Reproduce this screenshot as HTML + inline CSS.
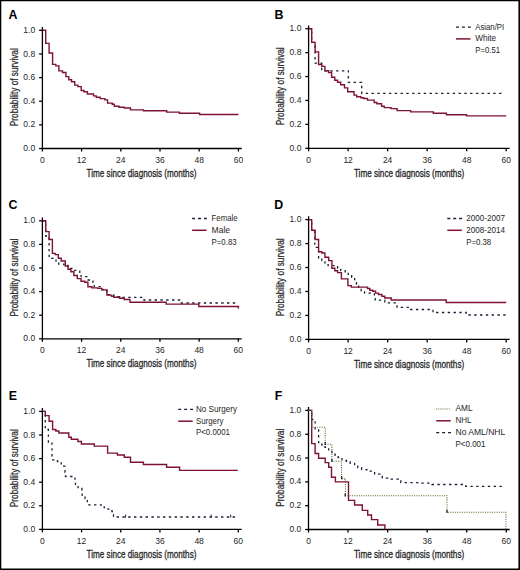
<!DOCTYPE html>
<html><head><meta charset="utf-8"><style>
html,body{margin:0;padding:0;background:#fff;}
body{width:520px;height:570px;overflow:hidden;}
svg{display:block;}
text{font-family:"Liberation Sans",sans-serif;}
.let{font-weight:bold;font-size:12.4px;fill:#000;}
.tk{font-size:8.5px;fill:#262626;}
.ti{font-size:10.6px;fill:#262626;stroke:#262626;stroke-width:0.3px;}
.yt{font-size:10px;fill:#262626;stroke:#262626;stroke-width:0.25px;}
.lg{font-size:8.4px;fill:#262626;}
.ax{stroke:#000;stroke-width:1.3;fill:none;}
</style></head><body>
<svg width="520" height="570" viewBox="0 0 520 570">
<rect x="0" y="0" width="520" height="570" fill="#fff"/>
<text x="8.4" y="18.5" class="let">A</text>
<path d="M42.4 27V148.5H241.8" class="ax"/>
<path d="M39.1 148.5H42.4" class="ax"/>
<text x="35.2" y="151.1" class="tk" text-anchor="end">0.0</text>
<path d="M39.1 124.86H42.4" class="ax"/>
<text x="35.2" y="127.46" class="tk" text-anchor="end">0.2</text>
<path d="M39.1 101.22H42.4" class="ax"/>
<text x="35.2" y="103.82" class="tk" text-anchor="end">0.4</text>
<path d="M39.1 77.58H42.4" class="ax"/>
<text x="35.2" y="80.18" class="tk" text-anchor="end">0.6</text>
<path d="M39.1 53.94H42.4" class="ax"/>
<text x="35.2" y="56.54" class="tk" text-anchor="end">0.8</text>
<path d="M39.1 30.3H42.4" class="ax"/>
<text x="35.2" y="32.9" class="tk" text-anchor="end">1.0</text>
<path d="M42.4 148.5V151.5" class="ax"/>
<text x="42.4" y="162.7" class="tk" text-anchor="middle">0</text>
<path d="M81.6 148.5V151.5" class="ax"/>
<text x="81.6" y="162.7" class="tk" text-anchor="middle">12</text>
<path d="M120.8 148.5V151.5" class="ax"/>
<text x="120.8" y="162.7" class="tk" text-anchor="middle">24</text>
<path d="M160 148.5V151.5" class="ax"/>
<text x="160" y="162.7" class="tk" text-anchor="middle">36</text>
<path d="M199.2 148.5V151.5" class="ax"/>
<text x="199.2" y="162.7" class="tk" text-anchor="middle">48</text>
<path d="M238.4 148.5V151.5" class="ax"/>
<text x="238.4" y="162.7" class="tk" text-anchor="middle">60</text>
<text x="86.6" y="177.1" class="ti" textLength="109.8" lengthAdjust="spacingAndGlyphs">Time since diagnosis (months)</text>
<text transform="translate(17.5 87.2) rotate(-90)" class="yt" text-anchor="middle" textLength="78" lengthAdjust="spacingAndGlyphs">Probability of survival</text>
<path d="M42.4 30.3H45.7V43.4H49.1V53H52.6V64.4H55.8V65.9H58.9V70.9H62.5V72.5H65.9V76.6H68.8V79.8H71.6V81.7H74.7V85.1H77.9V86.6H81.2V90.5H84V91.8H87.4V94H93.5V95.9H96.2V97.2H100.2V98.6H104.9V99.9H107.6V103.1H112.3V104.2H114.3V106.2H119V107.2H124.4V108H130.5V109.9H143.5V110.8H166.7V112.1H179.4V113.3H199.6V114.5H238.4" stroke="#7d1236" stroke-width="1.4" fill="none"/>
<text x="274.5" y="18.7" class="let">B</text>
<path d="M308.6 25.4V148.3H509.6" class="ax"/>
<path d="M305.3 148.3H308.6" class="ax"/>
<text x="301.4" y="150.9" class="tk" text-anchor="end">0.0</text>
<path d="M305.3 124.38H308.6" class="ax"/>
<text x="301.4" y="126.98" class="tk" text-anchor="end">0.2</text>
<path d="M305.3 100.46H308.6" class="ax"/>
<text x="301.4" y="103.06" class="tk" text-anchor="end">0.4</text>
<path d="M305.3 76.54H308.6" class="ax"/>
<text x="301.4" y="79.14" class="tk" text-anchor="end">0.6</text>
<path d="M305.3 52.62H308.6" class="ax"/>
<text x="301.4" y="55.22" class="tk" text-anchor="end">0.8</text>
<path d="M305.3 28.7H308.6" class="ax"/>
<text x="301.4" y="31.3" class="tk" text-anchor="end">1.0</text>
<path d="M308.6 148.3V151.3" class="ax"/>
<text x="308.6" y="162.5" class="tk" text-anchor="middle">0</text>
<path d="M348.12 148.3V151.3" class="ax"/>
<text x="348.12" y="162.5" class="tk" text-anchor="middle">12</text>
<path d="M387.64 148.3V151.3" class="ax"/>
<text x="387.64" y="162.5" class="tk" text-anchor="middle">24</text>
<path d="M427.16 148.3V151.3" class="ax"/>
<text x="427.16" y="162.5" class="tk" text-anchor="middle">36</text>
<path d="M466.68 148.3V151.3" class="ax"/>
<text x="466.68" y="162.5" class="tk" text-anchor="middle">48</text>
<path d="M506.2 148.3V151.3" class="ax"/>
<text x="506.2" y="162.5" class="tk" text-anchor="middle">60</text>
<text x="353.9" y="176.9" class="ti" textLength="110.3" lengthAdjust="spacingAndGlyphs">Time since diagnosis (months)</text>
<text transform="translate(283.7 86.3) rotate(-90)" class="yt" text-anchor="middle" textLength="78" lengthAdjust="spacingAndGlyphs">Probability of survival</text>
<path d="M308.6 28.7H311.7V42.3H315.1V63.2H321.7V70.8H348.3V82.3H361.7V93.4H504.5" stroke="#1a2035" stroke-width="1.3" stroke-dasharray="2.4 3.4" fill="none"/>
<path d="M308.6 28.7H311.7V42.4H315.1V51.9H318.6V64.5H321.8V66.4H324.9V70.8H328.5V72.5H331.6V77.2H334.8V80.3H337.6V82.2H340.7V84.7H344.5V87.9H347.7V91.7H354V95.1H356.7V96.8H360.8V97.8H363.5V98.5H367.5V100.1H374.2V102.5H376.9V103.8H381.6V106.3H384.3V107.6H391V108.6H397.1V110.6H410.7V111.9H433.3V113.3H446.4V114.7H466.6V115.9H506.2" stroke="#7d1236" stroke-width="1.4" fill="none"/>
<path d="M456 27.1h14.8" stroke="#1a2035" stroke-width="1.3" stroke-dasharray="3 2.9" fill="none"/>
<text x="475.2" y="29.5" class="lg" textLength="29" lengthAdjust="spacingAndGlyphs">Asian/PI</text>
<path d="M456 38.9h14.5" stroke="#7d1236" stroke-width="1.5" fill="none"/>
<text x="475.2" y="41.3" class="lg" textLength="21" lengthAdjust="spacingAndGlyphs">White</text>
<text x="475.2" y="53.1" class="lg" textLength="25" lengthAdjust="spacingAndGlyphs">P=0.51</text>
<text x="8.5" y="208.6" class="let">C</text>
<path d="M42.4 217.5V338.8H241.7" class="ax"/>
<path d="M39.1 338.8H42.4" class="ax"/>
<text x="35.2" y="341.4" class="tk" text-anchor="end">0.0</text>
<path d="M39.1 315.2H42.4" class="ax"/>
<text x="35.2" y="317.8" class="tk" text-anchor="end">0.2</text>
<path d="M39.1 291.6H42.4" class="ax"/>
<text x="35.2" y="294.2" class="tk" text-anchor="end">0.4</text>
<path d="M39.1 268H42.4" class="ax"/>
<text x="35.2" y="270.6" class="tk" text-anchor="end">0.6</text>
<path d="M39.1 244.4H42.4" class="ax"/>
<text x="35.2" y="247" class="tk" text-anchor="end">0.8</text>
<path d="M39.1 220.8H42.4" class="ax"/>
<text x="35.2" y="223.4" class="tk" text-anchor="end">1.0</text>
<path d="M42.4 338.8V341.8" class="ax"/>
<text x="42.4" y="353" class="tk" text-anchor="middle">0</text>
<path d="M81.58 338.8V341.8" class="ax"/>
<text x="81.58" y="353" class="tk" text-anchor="middle">12</text>
<path d="M120.76 338.8V341.8" class="ax"/>
<text x="120.76" y="353" class="tk" text-anchor="middle">24</text>
<path d="M159.94 338.8V341.8" class="ax"/>
<text x="159.94" y="353" class="tk" text-anchor="middle">36</text>
<path d="M199.12 338.8V341.8" class="ax"/>
<text x="199.12" y="353" class="tk" text-anchor="middle">48</text>
<path d="M238.3 338.8V341.8" class="ax"/>
<text x="238.3" y="353" class="tk" text-anchor="middle">60</text>
<text x="86.6" y="367.4" class="ti" textLength="109.8" lengthAdjust="spacingAndGlyphs">Time since diagnosis (months)</text>
<text transform="translate(17.5 277.6) rotate(-90)" class="yt" text-anchor="middle" textLength="78" lengthAdjust="spacingAndGlyphs">Probability of survival</text>
<path d="M42.4 220.8H45.7V236H49.1V258.4H56V262H58.7V264.1H64V265.5H68V268.5H74.7V270.4H79.8V272.3H81.1V276.7H88V280H93V282.4H94.2V286.6H101.7V289.5H106.9V294.6H113.8V296.6H119.6V297.4H144V300H179.6V303H238.4" stroke="#1a2035" stroke-width="1.3" stroke-dasharray="2.4 3.4" fill="none"/>
<path d="M42.4 220.8H45.7V231.6H49.1V239.5H52.4V253.4H55.2V254.6H58.3V258.2H61.2V261H65.3V266H68V269.2H70.9V271.7H73.9V275.5H77.3V278.6H81V281.2H84.8V282.2H87.9V286.8H91.9V287.9H97.7V288.4H101.7V289.9H106.9V295.1H111.5V296.2H113.8V297.2H119.6V298.3H124.2V299.5H130V302.2H166.2V304.1H198.8V306.5H238.4V308.5" stroke="#7d1236" stroke-width="1.4" fill="none"/>
<path d="M192.1 218.5h14.8" stroke="#1a2035" stroke-width="1.3" stroke-dasharray="3 2.9" fill="none"/>
<text x="211.6" y="220.9" class="lg" textLength="26" lengthAdjust="spacingAndGlyphs">Female</text>
<path d="M192.1 230.3h14.5" stroke="#7d1236" stroke-width="1.5" fill="none"/>
<text x="211.6" y="232.7" class="lg" textLength="18.5" lengthAdjust="spacingAndGlyphs">Male</text>
<text x="211.6" y="244.5" class="lg" textLength="25" lengthAdjust="spacingAndGlyphs">P=0.83</text>
<text x="274.2" y="208.5" class="let">D</text>
<path d="M308.6 216.3V339.4H509.6" class="ax"/>
<path d="M305.3 339.4H308.6" class="ax"/>
<text x="301.4" y="342" class="tk" text-anchor="end">0.0</text>
<path d="M305.3 315.44H308.6" class="ax"/>
<text x="301.4" y="318.04" class="tk" text-anchor="end">0.2</text>
<path d="M305.3 291.48H308.6" class="ax"/>
<text x="301.4" y="294.08" class="tk" text-anchor="end">0.4</text>
<path d="M305.3 267.52H308.6" class="ax"/>
<text x="301.4" y="270.12" class="tk" text-anchor="end">0.6</text>
<path d="M305.3 243.56H308.6" class="ax"/>
<text x="301.4" y="246.16" class="tk" text-anchor="end">0.8</text>
<path d="M305.3 219.6H308.6" class="ax"/>
<text x="301.4" y="222.2" class="tk" text-anchor="end">1.0</text>
<path d="M308.6 339.4V342.4" class="ax"/>
<text x="308.6" y="353.6" class="tk" text-anchor="middle">0</text>
<path d="M348.12 339.4V342.4" class="ax"/>
<text x="348.12" y="353.6" class="tk" text-anchor="middle">12</text>
<path d="M387.64 339.4V342.4" class="ax"/>
<text x="387.64" y="353.6" class="tk" text-anchor="middle">24</text>
<path d="M427.16 339.4V342.4" class="ax"/>
<text x="427.16" y="353.6" class="tk" text-anchor="middle">36</text>
<path d="M466.68 339.4V342.4" class="ax"/>
<text x="466.68" y="353.6" class="tk" text-anchor="middle">48</text>
<path d="M506.2 339.4V342.4" class="ax"/>
<text x="506.2" y="353.6" class="tk" text-anchor="middle">60</text>
<text x="353.9" y="368" class="ti" textLength="110.3" lengthAdjust="spacingAndGlyphs">Time since diagnosis (months)</text>
<text transform="translate(283.7 277.3) rotate(-90)" class="yt" text-anchor="middle" textLength="78" lengthAdjust="spacingAndGlyphs">Probability of survival</text>
<path d="M308.6 219.6H311.7V231.5H314.8V247.3H318.6V258H321.8V260.6H325V263.1H328.1V265.6H337.6V268.2H340.7V270.7H345.2V272.6H348.3V275.1H351.7V277.3H354.7V279.7H356.5V284H358.6V288.2H361.2V290.8H364.6V293.1H370.4V293.8H374.4V296H375.2V300.2H384.8V302.9H397V307.3H410V309.5H433V312.5H466.2V315H506.2V315.8" stroke="#1a2035" stroke-width="1.3" stroke-dasharray="2.4 3.4" fill="none"/>
<path d="M308.6 219.6H311.7V230.3H315.1V239.5H318.6V251.7H321.8V253H324.9V257.2H328.7V260.6H331.9V268.2H334.8V270.7H337.6V272.6H341.4V278.9H347.9V285.6H351.3V287.1H367.5V288.5H369.8V290.2H372.7V291.3H375.6V293.1H378.5V294.5H381.9V296.3H384.8V298H391.2V300H446.2V302.5H506.2" stroke="#7d1236" stroke-width="1.4" fill="none"/>
<path d="M447.3 218.5h14.8" stroke="#1a2035" stroke-width="1.3" stroke-dasharray="3 2.9" fill="none"/>
<text x="466.2" y="220.9" class="lg" textLength="38.8" lengthAdjust="spacingAndGlyphs">2000-2007</text>
<path d="M447.3 230.3h14.5" stroke="#7d1236" stroke-width="1.5" fill="none"/>
<text x="466.2" y="232.7" class="lg" textLength="38.8" lengthAdjust="spacingAndGlyphs">2008-2014</text>
<text x="466.2" y="244.5" class="lg" textLength="25" lengthAdjust="spacingAndGlyphs">P=0.38</text>
<text x="8.8" y="400" class="let">E</text>
<path d="M42.4 408.1V529.4H241.7" class="ax"/>
<path d="M39.1 529.4H42.4" class="ax"/>
<text x="35.2" y="532" class="tk" text-anchor="end">0.0</text>
<path d="M39.1 505.8H42.4" class="ax"/>
<text x="35.2" y="508.4" class="tk" text-anchor="end">0.2</text>
<path d="M39.1 482.2H42.4" class="ax"/>
<text x="35.2" y="484.8" class="tk" text-anchor="end">0.4</text>
<path d="M39.1 458.6H42.4" class="ax"/>
<text x="35.2" y="461.2" class="tk" text-anchor="end">0.6</text>
<path d="M39.1 435H42.4" class="ax"/>
<text x="35.2" y="437.6" class="tk" text-anchor="end">0.8</text>
<path d="M39.1 411.4H42.4" class="ax"/>
<text x="35.2" y="414" class="tk" text-anchor="end">1.0</text>
<path d="M42.4 529.4V532.4" class="ax"/>
<text x="42.4" y="543.6" class="tk" text-anchor="middle">0</text>
<path d="M81.58 529.4V532.4" class="ax"/>
<text x="81.58" y="543.6" class="tk" text-anchor="middle">12</text>
<path d="M120.76 529.4V532.4" class="ax"/>
<text x="120.76" y="543.6" class="tk" text-anchor="middle">24</text>
<path d="M159.94 529.4V532.4" class="ax"/>
<text x="159.94" y="543.6" class="tk" text-anchor="middle">36</text>
<path d="M199.12 529.4V532.4" class="ax"/>
<text x="199.12" y="543.6" class="tk" text-anchor="middle">48</text>
<path d="M238.3 529.4V532.4" class="ax"/>
<text x="238.3" y="543.6" class="tk" text-anchor="middle">60</text>
<text x="86.6" y="558" class="ti" textLength="109.8" lengthAdjust="spacingAndGlyphs">Time since diagnosis (months)</text>
<text transform="translate(17.5 468.2) rotate(-90)" class="yt" text-anchor="middle" textLength="78" lengthAdjust="spacingAndGlyphs">Probability of survival</text>
<path d="M42.4 411.4H45.3V429.5H48.4V442H52V459.8H57.5V461.6H61.2V466.2H65V472.3H65.5V476.5H75V480H75.5V485.4H78.1V488.5H81.9V490H82.2V495.4H85V498.5H87.3V504.8H101.2V506.2H104.2V507.7H108V509.2H111.9V511.5H113.5V517H237.5" stroke="#1a2035" stroke-width="1.3" stroke-dasharray="2.4 3.4" fill="none"/>
<path d="M42.4 411.4H45.3V415.6H49.1V421.3H52.6V429.5H55.8V431H58.9V433H68.8V437.3H71.3V439.3H77.9V441.5H81.4V444H94.3V446.1H107.6V453.1H117.4V455H124.3V457.3H130.5V462.3H143.4V464.5H166.6V467.3H179.6V470.4H237.8" stroke="#7d1236" stroke-width="1.4" fill="none"/>
<path d="M125.6 517.6v-3" stroke="#1a2035" stroke-width="1"/>
<path d="M211.2 517.6v-3" stroke="#1a2035" stroke-width="1"/>
<path d="M230.7 517.6v-3" stroke="#1a2035" stroke-width="1"/>
<path d="M178.2 409.4h14.8" stroke="#1a2035" stroke-width="1.3" stroke-dasharray="3 2.9" fill="none"/>
<text x="196" y="411.8" class="lg" textLength="41" lengthAdjust="spacingAndGlyphs">No Surgery</text>
<path d="M178.2 421.2h14.5" stroke="#7d1236" stroke-width="1.5" fill="none"/>
<text x="196" y="423.6" class="lg" textLength="27.5" lengthAdjust="spacingAndGlyphs">Surgery</text>
<text x="196" y="435.4" class="lg" textLength="34" lengthAdjust="spacingAndGlyphs">P&lt;0.0001</text>
<text x="274.8" y="400" class="let">F</text>
<path d="M308.5 407.1V529.5H509.7" class="ax"/>
<path d="M305.2 529.5H308.5" class="ax"/>
<text x="301.3" y="532.1" class="tk" text-anchor="end">0.0</text>
<path d="M305.2 505.68H308.5" class="ax"/>
<text x="301.3" y="508.28" class="tk" text-anchor="end">0.2</text>
<path d="M305.2 481.86H308.5" class="ax"/>
<text x="301.3" y="484.46" class="tk" text-anchor="end">0.4</text>
<path d="M305.2 458.04H308.5" class="ax"/>
<text x="301.3" y="460.64" class="tk" text-anchor="end">0.6</text>
<path d="M305.2 434.22H308.5" class="ax"/>
<text x="301.3" y="436.82" class="tk" text-anchor="end">0.8</text>
<path d="M305.2 410.4H308.5" class="ax"/>
<text x="301.3" y="413" class="tk" text-anchor="end">1.0</text>
<path d="M308.5 529.5V532.5" class="ax"/>
<text x="308.5" y="543.7" class="tk" text-anchor="middle">0</text>
<path d="M348.06 529.5V532.5" class="ax"/>
<text x="348.06" y="543.7" class="tk" text-anchor="middle">12</text>
<path d="M387.62 529.5V532.5" class="ax"/>
<text x="387.62" y="543.7" class="tk" text-anchor="middle">24</text>
<path d="M427.18 529.5V532.5" class="ax"/>
<text x="427.18" y="543.7" class="tk" text-anchor="middle">36</text>
<path d="M466.74 529.5V532.5" class="ax"/>
<text x="466.74" y="543.7" class="tk" text-anchor="middle">48</text>
<path d="M506.3 529.5V532.5" class="ax"/>
<text x="506.3" y="543.7" class="tk" text-anchor="middle">60</text>
<text x="353.9" y="558.1" class="ti" textLength="110.3" lengthAdjust="spacingAndGlyphs">Time since diagnosis (months)</text>
<text transform="translate(283.6 467.75) rotate(-90)" class="yt" text-anchor="middle" textLength="78" lengthAdjust="spacingAndGlyphs">Probability of survival</text>
<path d="M308.5 410.4H311.7V443.6H315.1V453.5H318.6V458.2H325.2V462.6H328.7V467.3H331.5V477.3H335.4V481.9H348.5V500.4H354.6V505H362.3V510.4H367.7V515H371.5V519.6H377.7V525H384.9V529.4" stroke="#7d1236" stroke-width="1.4" fill="none"/>
<path d="M308.5 410.4H311.7V419.5H315.1V428.8H318.6V442.6H321.8V444.9H325V447.4H328.7V449.9H331.9V452.5H335V455H338.2V457.5H342V460.5H346.4V462H350.2V463.4H354.6V465.3H357.8V467.6H361.6V469.6H366.9V471.2H374.6V474.2H382.3V478.1H390.4V479.1H398.2V480.6H400.8V482.6H418.9V483.2H431.9V484.5H465.7V486.3H504.6" stroke="#1a2035" stroke-width="1.3" stroke-dasharray="2.4 3.4" fill="none"/>
<path d="M308.5 410.4H311.7V427.2H325.2V444.3H331.9V461.3H341.5V478.6H345.4V495.8H447V512.3H505.9V529.4" stroke="#5e7438" stroke-width="1.1" stroke-dasharray="1.1 1.2" fill="none"/>
<path d="M325.2 444.9v-3" stroke="#111" stroke-width="1.2"/>
<path d="M331.9 461.9v-3" stroke="#111" stroke-width="1.2"/>
<path d="M341.7 479.2v-3" stroke="#111" stroke-width="1.2"/>
<path d="M345.2 496.4v-3" stroke="#111" stroke-width="1.2"/>
<path d="M447 512.9v-3" stroke="#111" stroke-width="1.2"/>
<path d="M436.2 409h13.5" stroke="#5e7438" stroke-width="1.1" stroke-dasharray="1 1.1" fill="none"/>
<text x="455.5" y="411.4" class="lg" textLength="17" lengthAdjust="spacingAndGlyphs">AML</text>
<path d="M436.2 420.8h14.5" stroke="#7d1236" stroke-width="1.5" fill="none"/>
<text x="455.5" y="423.2" class="lg" textLength="16" lengthAdjust="spacingAndGlyphs">NHL</text>
<path d="M436.2 432.6h14.8" stroke="#1a2035" stroke-width="1.3" stroke-dasharray="3 2.9" fill="none"/>
<text x="455.5" y="435" class="lg" textLength="49.7" lengthAdjust="spacingAndGlyphs">No AML/NHL</text>
<text x="455.5" y="446.8" class="lg" textLength="30" lengthAdjust="spacingAndGlyphs">P&lt;0.001</text>
<path d="M0 0.65H520M0.65 0V570" stroke="#000" stroke-width="1.3"/>
<path d="M0 569.2H520M519.2 0V570" stroke="#000" stroke-width="1.6"/>
</svg>
</body></html>
